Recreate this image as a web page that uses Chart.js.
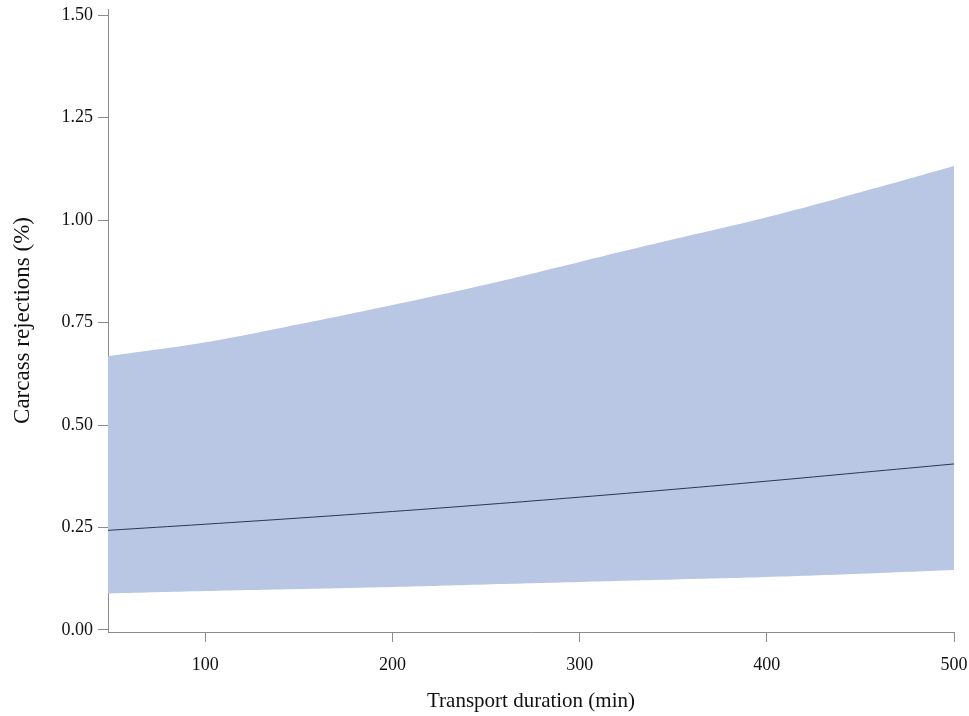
<!DOCTYPE html>
<html><head><meta charset="utf-8">
<script src="https://cdn.jsdelivr.net/npm/chart.js@4/dist/chart.umd.min.js"></script>
<style>html,body{margin:0;padding:0;background:#fff}#wrap{width:969px;height:716px}</style>
</head><body><div id="wrap"><canvas id="c" width="969" height="716"></canvas></div>
<script>
const durations = [48, 100, 150, 200, 250, 300, 350, 400, 450, 500];
const meanRej   = [0.243, 0.258, 0.273, 0.289, 0.306, 0.324, 0.343, 0.363, 0.384, 0.405];
const upperCI   = [0.668, 0.702, 0.746, 0.793, 0.843, 0.898, 0.953, 1.007, 1.068, 1.132];
const lowerCI   = [0.089, 0.095, 0.100, 0.105, 0.111, 0.117, 0.123, 0.129, 0.137, 0.146];
const yTicks = [0, 0.25, 0.5, 0.75, 1.0, 1.25, 1.5];
const xTicks = [100, 200, 300, 400, 500];

const pts = arr => durations.map((d, i) => ({x: d, y: arr[i]}));
const FONT = "'Liberation Serif', 'Times New Roman', serif";

new Chart(document.getElementById('c'), {
  type: 'line',
  data: {
    datasets: [
      {data: pts(upperCI), borderWidth: 0, pointRadius: 0, fill: '+1', backgroundColor: 'rgb(185,199,228)', tension: 0.4, borderColor: 'rgba(0,0,0,0)', order: 2},
      {data: pts(lowerCI), borderWidth: 0, pointRadius: 0, fill: false, tension: 0.4, borderColor: 'rgba(0,0,0,0)', order: 1},
      {data: pts(meanRej), borderWidth: 1, pointRadius: 0, fill: false, borderColor: '#2b3550', tension: 0.4, order: -1}
    ]
  },
  options: {
    responsive: false, animation: false,
    layout: {padding: {left: 0, right: 15, top: 9, bottom: 0}},
    plugins: {legend: {display: false}, tooltip: {enabled: false}},
    scales: {
      x: {
        type: 'linear', min: 48, max: 500,
        afterBuildTicks: s => { s.ticks = xTicks.map(v => ({value: v})); },
        afterFit: s => { s.height = 84; s.paddingLeft = 0; s.paddingRight = 0; },
        grid: {drawOnChartArea: false, drawTicks: true, tickLength: 10, color: '#8c8c8c'},
        border: {color: '#8c8c8c', width: 1},
        ticks: {color: '#111', font: {family: FONT, size: 18}, padding: 12, maxRotation: 0,
                callback: v => String(v)},
        title: {display: true, text: 'Transport duration (min)', color: '#111', font: {family: FONT, size: 21}, padding: {top: 8, bottom: 2}}
      },
      y: {
        min: -0.005, max: 1.515,
        afterBuildTicks: s => { s.ticks = yTicks.map(v => ({value: v})); },
        afterFit: s => { s.width = 108; s.paddingTop = 0; s.paddingBottom = 0; },
        grid: {drawOnChartArea: false, drawTicks: true, tickLength: 10, color: '#8c8c8c'},
        border: {color: '#8c8c8c', width: 1},
        ticks: {color: '#111', font: {family: FONT, size: 18}, padding: 5,
                callback: v => v.toFixed(2)},
        title: {display: true, text: 'Carcass rejections (%)', color: '#111', font: {family: FONT, size: 23}, padding: {top: 9, bottom: 6}}
      }
    }
  }
});
</script></body></html>
